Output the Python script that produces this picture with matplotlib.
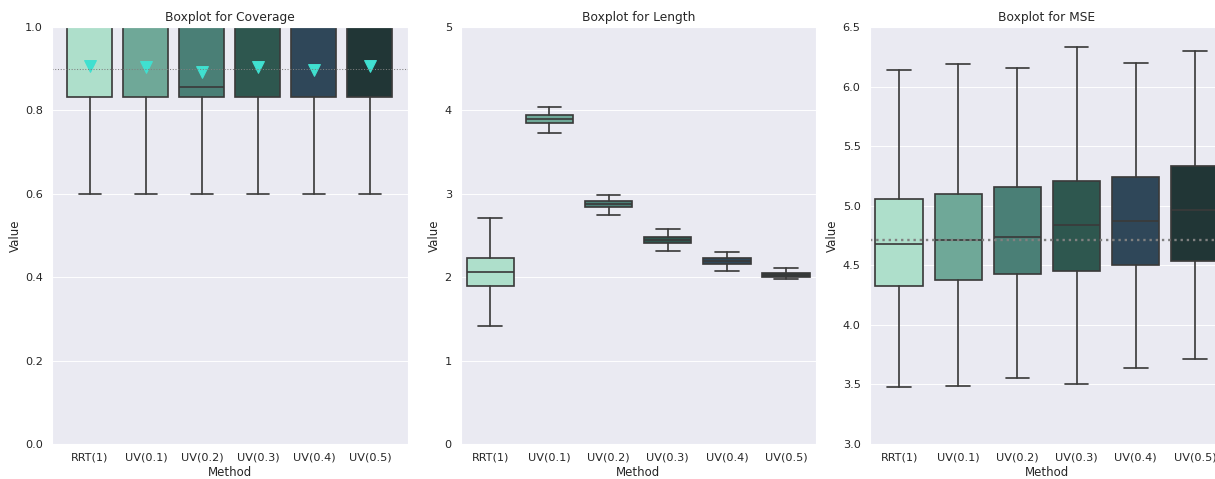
import numpy as np
import matplotlib
matplotlib.use("Agg")
import matplotlib.pyplot as plt
import seaborn as sns

methods = ["RRT(1)", "UV(0.1)", "UV(0.2)", "UV(0.3)", "UV(0.4)", "UV(0.5)"]
colors = ["#aedfcb", "#6fa898", "#4a7f76", "#2e574f", "#2f4759", "#213636"]

# five-number summaries: whislo, q1, med, q3, whishi
cov_lo = [0.6, 0.6, 0.6, 0.6, 0.6, 0.6]
cov_q1 = [0.833, 0.833, 0.833, 0.833, 0.833, 0.833]
cov_med = [1.0, 1.0, 0.857, 1.0, 1.0, 1.0]
cov_q3 = [1.0, 1.0, 1.0, 1.0, 1.0, 1.0]
cov_hi = [1.0, 1.0, 1.0, 1.0, 1.0, 1.0]
cov_mean = [0.906, 0.904, 0.893, 0.904, 0.896, 0.906]
cov_target = 0.9

len_lo = [1.42, 3.73, 2.74, 2.31, 2.08, 1.975]
len_q1 = [1.89, 3.85, 2.84, 2.41, 2.16, 2.00]
len_med = [2.06, 3.90, 2.88, 2.45, 2.19, 2.03]
len_q3 = [2.23, 3.945, 2.91, 2.48, 2.23, 2.05]
len_hi = [2.71, 4.04, 2.99, 2.58, 2.30, 2.115]

mse_lo = [3.48, 3.49, 3.55, 3.50, 3.64, 3.71]
mse_q1 = [4.33, 4.38, 4.43, 4.45, 4.50, 4.54]
mse_med = [4.68, 4.71, 4.74, 4.84, 4.87, 4.96]
mse_q3 = [5.06, 5.10, 5.16, 5.21, 5.24, 5.33]
mse_hi = [6.14, 6.19, 6.16, 6.33, 6.20, 6.30]
mse_target = 4.71

sns.set_theme(style="darkgrid")
plt.rcParams.update({
    "axes.titlesize": 13,
    "axes.labelsize": 12.5,
    "xtick.labelsize": 12,
    "ytick.labelsize": 12,
})

dpi = 67.5
fig = plt.figure(figsize=(1215 / dpi, 479 / dpi), dpi=dpi)
W, H = 1215, 479


def make_axes(left, right, top=27, bottom=444):
    return fig.add_axes([left / W, 1 - bottom / H, (right - left) / W, (bottom - top) / H])


def draw_box(ax, lo, q1, med, q3, hi, means=None):
    stats = []
    for i in range(len(methods)):
        d = dict(whislo=lo[i], q1=q1[i], med=med[i], q3=q3[i], whishi=hi[i], fliers=[])
        if means is not None:
            d["mean"] = means[i]
        stats.append(d)
    line = "#3a3a3a"
    lw = 1.8
    bp = ax.bxp(stats, positions=range(len(methods)), widths=0.8, patch_artist=True,
                showmeans=means is not None,
                boxprops=dict(edgecolor=line, linewidth=lw),
                medianprops=dict(color=line, linewidth=lw),
                whiskerprops=dict(color=line, linewidth=lw),
                capprops=dict(color=line, linewidth=lw),
                meanprops=dict(marker="v", markerfacecolor="turquoise",
                               markeredgecolor="turquoise", markersize=13))
    for patch, c in zip(bp["boxes"], colors):
        patch.set_facecolor(c)
    ax.set_xticks(range(len(methods)))
    ax.set_xticklabels(methods)
    ax.xaxis.grid(False)
    ax.set_xlabel("Method", labelpad=3)
    ax.set_ylabel("Value")
    return bp


ax1 = make_axes(52, 407.7)
draw_box(ax1, cov_lo, cov_q1, cov_med, cov_q3, cov_hi, cov_mean)
ax1.axhline(cov_target, color="gray", linestyle=":", linewidth=1.1, zorder=2.5)
ax1.set_xlim(-0.675, 5.675)
ax1.set_ylim(0, 1.0)
ax1.set_yticks(np.arange(0, 1.01, 0.2))
ax1.set_yticklabels([f"{v:.1f}" for v in np.arange(0, 1.01, 0.2)])
ax1.set_title("Boxplot for Coverage")

ax2 = make_axes(460.7, 815.7)
draw_box(ax2, len_lo, len_q1, len_med, len_q3, len_hi)
ax2.set_xlim(-0.5, 5.5)
ax2.set_ylim(0, 5)
ax2.set_yticks(range(0, 6))
ax2.set_title("Boxplot for Length")

ax3 = make_axes(869.5, 1224.5)
draw_box(ax3, mse_lo, mse_q1, mse_med, mse_q3, mse_hi)
ax3.axhline(mse_target, color="gray", linestyle=":", linewidth=2.5, zorder=2.5)
ax3.set_xlim(-0.5, 5.5)
ax3.set_ylim(3.0, 6.5)
ax3.set_yticks(np.arange(3.0, 6.51, 0.5))
ax3.set_yticklabels([f"{v:.1f}" for v in np.arange(3.0, 6.51, 0.5)])
ax3.set_title("Boxplot for MSE")

fig.savefig("out.png", dpi=dpi)
